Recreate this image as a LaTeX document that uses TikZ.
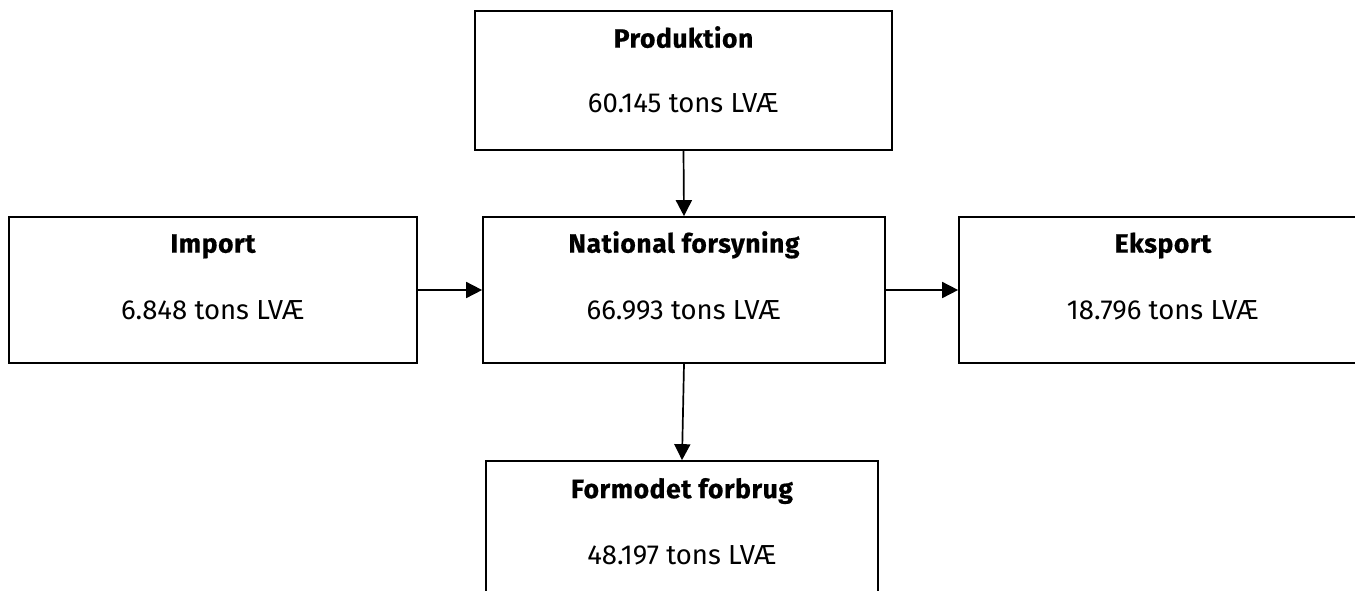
\documentclass[tikz,border=0pt]{standalone}
\usepackage{fontspec}
\setmainfont{Fira Sans}[BoldFeatures={LetterSpace=2,FakeBold=0.6}]
\usetikzlibrary{arrows.meta}
\begin{document}
\begin{tikzpicture}[x=1pt,y=-1pt,
  box/.style={draw, line width=1.7pt, rectangle, inner sep=0pt},
  ttl/.style={font=\fontsize{26.5}{30}\selectfont\bfseries, inner sep=0pt, anchor=base},
  val/.style={font=\fontsize{27.5}{30}\selectfont, inner sep=0pt, anchor=base},
  conn/.style={line width=1.7pt, -{Triangle[length=16pt,width=16pt]}}]
\useasboundingbox (0,0) rectangle (1355,590);
\clip (0,0) rectangle (1355,590);
% boxes
\node[box, minimum width=417pt, minimum height=139pt] (prod) at (683.5,80.5) {};
\node[box, minimum width=408pt, minimum height=146pt] (imp) at (213,290) {};
\node[box, minimum width=402pt, minimum height=146pt] (nat) at (684,290) {};
\node[box, minimum width=408pt, minimum height=146pt] (eks) at (1163,290) {};
\node[box, minimum width=392pt, minimum height=160pt] (form) at (682,541) {};
% texts
\node[ttl] (prodt) at ([yshift=-37.5pt]prod.north) {Produktion};
\node[val] (prodv) at ([yshift=-102.5pt]prod.north) {60.145 tons LVÆ};
\node[ttl] (impt) at ([yshift=-36.5pt]imp.north) {Import};
\node[val] (impv) at ([yshift=-103pt]imp.north) {6.848 tons LVÆ};
\node[ttl] (natt) at ([yshift=-36.5pt]nat.north) {National forsyning};
\node[val] (natv) at ([yshift=-103pt]nat.north) {66.993 tons LVÆ};
\node[ttl] (ekst) at ([yshift=-36.5pt]eks.north) {Eksport};
\node[val] (eksv) at ([yshift=-103pt]eks.north) {18.796 tons LVÆ};
\node[ttl] (formt) at ([yshift=-38pt]form.north) {Formodet forbrug};
\node[val] (formv) at ([yshift=-104pt]form.north) {48.197 tons LVÆ};
% connectors
\draw[conn] (prod.south) -- (nat.north);
\draw[conn] (imp.east) -- (nat.west);
\draw[conn] (nat.east) -- (eks.west);
\draw[conn] (nat.south) -- (form.north);
\end{tikzpicture}
\end{document}
